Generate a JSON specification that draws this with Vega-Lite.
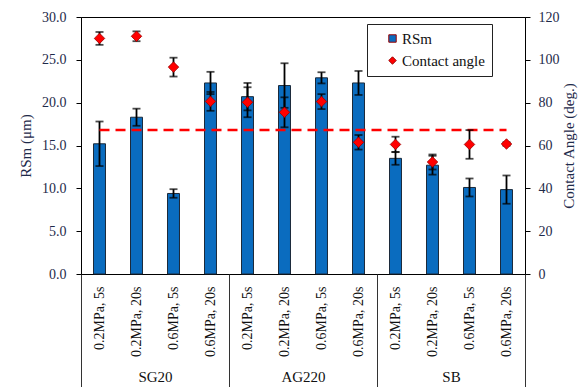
{
  "$schema": "https://vega.github.io/schema/vega-lite/v6.json",
  "width": 444,
  "height": 257,
  "autosize": {"type": "none"},
  "padding": {"left": 81, "top": 17, "right": 59, "bottom": 113},
  "config": {
    "font": "Liberation Serif",
    "view": {"stroke": "#000", "strokeWidth": 1},
    "axis": {
      "labelFont": "Liberation Serif",
      "titleFont": "Liberation Serif",
      "labelFontSize": 14,
      "titleFontSize": 15,
      "titleFontWeight": "normal",
      "labelColor": "#1e2a4a",
      "titleColor": "#1e2a4a",
      "domainColor": "#000",
      "tickColor": "#000",
      "grid": false
    },
    "legend": {
      "labelFont": "Liberation Serif",
      "labelFontSize": 15,
      "labelColor": "#111"
    }
  },
  "datasets": {
    "measurements": [
      {"key": "SG20|0.2MPa, 5s", "group": "SG20", "rsm": 15.2, "rsm_err": 2.6, "ca": 110.0, "ca_err": 3.0},
      {"key": "SG20|0.2MPa, 20s", "group": "SG20", "rsm": 18.3, "rsm_err": 1.0, "ca": 111.0, "ca_err": 2.3},
      {"key": "SG20|0.6MPa, 5s", "group": "SG20", "rsm": 9.4, "rsm_err": 0.5, "ca": 96.6, "ca_err": 4.4},
      {"key": "SG20|0.6MPa, 20s", "group": "SG20", "rsm": 22.3, "rsm_err": 1.3, "ca": 80.6, "ca_err": 4.4},
      {"key": "AG220|0.2MPa, 5s", "group": "AG220", "rsm": 20.7, "rsm_err": 1.6, "ca": 80.2, "ca_err": 7.0},
      {"key": "AG220|0.2MPa, 20s", "group": "AG220", "rsm": 22.0, "rsm_err": 2.6, "ca": 75.5, "ca_err": 7.0},
      {"key": "AG220|0.6MPa, 5s", "group": "AG220", "rsm": 22.9, "rsm_err": 0.65, "ca": 80.5, "ca_err": 3.5},
      {"key": "AG220|0.6MPa, 20s", "group": "AG220", "rsm": 22.3, "rsm_err": 1.4, "ca": 61.5, "ca_err": 3.4},
      {"key": "SB|0.2MPa, 5s", "group": "SB", "rsm": 13.5, "rsm_err": 0.75, "ca": 60.5, "ca_err": 3.6},
      {"key": "SB|0.2MPa, 20s", "group": "SB", "rsm": 12.7, "rsm_err": 1.1, "ca": 52.3, "ca_err": 3.5},
      {"key": "SB|0.6MPa, 5s", "group": "SB", "rsm": 10.1, "rsm_err": 1.05, "ca": 60.5, "ca_err": 6.7},
      {"key": "SB|0.6MPa, 20s", "group": "SB", "rsm": 9.85, "rsm_err": 1.65, "ca": 60.7, "ca_err": 0.8}
    ],
    "reference": [
      {"key": "SG20|0.2MPa, 5s", "level": 16.8},
      {"key": "SB|0.6MPa, 20s", "level": 16.8}
    ],
    "groups": [
      {"group": "SG20"},
      {"group": "AG220"},
      {"group": "SB"}
    ]
  },
  "layer": [
    {
      "data": {"name": "measurements"},
      "encoding": {
        "x": {
          "field": "key",
          "type": "nominal",
          "scale": {
            "domain": ["SG20|0.2MPa, 5s", "SG20|0.2MPa, 20s", "SG20|0.6MPa, 5s", "SG20|0.6MPa, 20s",
                       "AG220|0.2MPa, 5s", "AG220|0.2MPa, 20s", "AG220|0.6MPa, 5s", "AG220|0.6MPa, 20s",
                       "SB|0.2MPa, 5s", "SB|0.2MPa, 20s", "SB|0.6MPa, 5s", "SB|0.6MPa, 20s"],
            "paddingInner": 0.676,
            "paddingOuter": 0.338
          },
          "axis": {
            "title": null,
            "labelAngle": -90,
            "ticks": false,
            "domain": false,
            "labelPadding": 12,
            "labelColor": "#111",
            "labelFontSize": 14,
            "labelExpr": "split(datum.value, '|')[1]"
          }
        }
      },
      "layer": [
        {
          "mark": {"type": "bar", "stroke": "#1c2a3a", "strokeWidth": 1},
          "encoding": {
            "y": {
              "field": "rsm",
              "type": "quantitative",
              "title": "RSm (μm)",
              "scale": {"domain": [0, 30], "nice": false},
              "axis": {
                "orient": "left",
                "values": [0, 5, 10, 15, 20, 25, 30],
                "format": ".1f",
                "tickSize": 5,
                "labelPadding": 10,
                "titlePadding": 8
              }
            },
            "color": {
              "datum": "RSm",
              "title": null,
              "scale": {"domain": ["RSm", "Contact angle"], "range": ["#0a6cbf", "#ff0000"]},
              "legend": {
                "orient": "none",
                "legendX": 286,
                "legendY": 7,
                "strokeColor": "#222",
                "fillColor": "#fff",
                "padding": 7,
                "rowPadding": 6,
                "symbolOffset": 11,
                "labelOffset": 2,
                "symbolSize": 55,
                "symbolStrokeColor": "#222",
                "symbolStrokeWidth": 1,
                "labelExpr": "datum.label + '\u00a0\u00a0\u00a0\u00a0'"
              }
            }
          }
        },
        {
          "mark": {"type": "errorbar", "color": "#000", "thickness": 1.8, "size": 8, "ticks": true},
          "encoding": {
            "y": {"field": "rsm", "type": "quantitative", "title": "RSm (μm)"},
            "yError": {"field": "rsm_err"}
          }
        },
        {
          "data": {"name": "reference"},
          "mark": {"type": "line", "color": "#ff0000", "strokeWidth": 2.5, "strokeDash": [10, 6]},
          "encoding": {
            "y": {"field": "level", "type": "quantitative", "title": "RSm (μm)"}
          }
        }
      ]
    },
    {
      "data": {"name": "measurements"},
      "encoding": {
        "x": {
          "field": "key",
          "type": "nominal",
          "scale": {
            "domain": ["SG20|0.2MPa, 5s", "SG20|0.2MPa, 20s", "SG20|0.6MPa, 5s", "SG20|0.6MPa, 20s",
                       "AG220|0.2MPa, 5s", "AG220|0.2MPa, 20s", "AG220|0.6MPa, 5s", "AG220|0.6MPa, 20s",
                       "SB|0.2MPa, 5s", "SB|0.2MPa, 20s", "SB|0.6MPa, 5s", "SB|0.6MPa, 20s"],
            "paddingInner": 0.676,
            "paddingOuter": 0.338
          },
          "axis": null
        }
      },
      "layer": [
        {
          "mark": {"type": "errorbar", "color": "#000", "thickness": 1.8, "size": 8, "ticks": true},
          "encoding": {
            "y": {
              "field": "ca",
              "type": "quantitative",
              "title": "Contact Angle (deg.)",
              "scale": {"domain": [0, 120], "nice": false},
              "axis": {
                "orient": "right",
                "values": [0, 20, 40, 60, 80, 100, 120],
                "tickSize": 5,
                "labelPadding": 8,
                "titleAngle": 270,
                "titleBaseline": "top",
                "titlePadding": 2
              }
            },
            "yError": {"field": "ca_err"}
          }
        },
        {
          "mark": {"type": "point", "filled": true, "size": 110, "stroke": "#990000", "strokeWidth": 0.8, "opacity": 1},
          "encoding": {
            "y": {"field": "ca", "type": "quantitative", "title": "Contact Angle (deg.)"},
            "color": {"datum": "Contact angle", "title": null},
            "shape": {
              "datum": "Contact angle",
              "title": null,
              "scale": {"domain": ["RSm", "Contact angle"], "range": ["square", "diamond"]}
            }
          }
        }
      ]
    },
    {
      "data": {"name": "groups"},
      "mark": {"type": "point", "opacity": 0},
      "encoding": {
        "x": {
          "field": "group",
          "type": "nominal",
          "scale": {"domain": ["SG20", "AG220", "SB"], "paddingInner": 0, "paddingOuter": 0},
          "axis": {
            "orient": "bottom",
            "title": null,
            "domain": false,
            "tickBand": "extent",
            "tickSize": 115,
            "tickColor": "#333",
            "labelAngle": 0,
            "labelPadding": -20,
            "labelFontSize": 15,
            "labelColor": "#111"
          }
        }
      }
    }
  ],
  "resolve": {
    "scale": {"x": "independent", "y": "independent"},
    "axis": {"x": "independent", "y": "independent"}
  }
}
